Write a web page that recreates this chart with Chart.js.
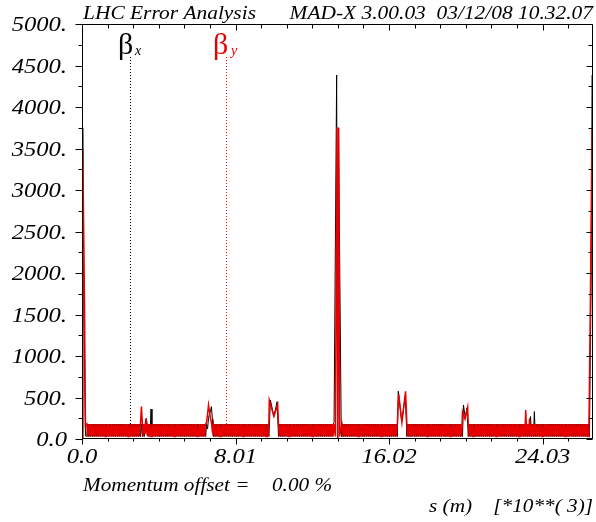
<!DOCTYPE html>
<html>
<head>
<meta charset="utf-8">
<script src="https://cdn.jsdelivr.net/npm/chart.js@4/dist/chart.umd.min.js"></script>
<style>
html,body{margin:0;padding:0;background:#fff;}
#wrap{width:596px;height:522px;}
</style>
</head>
<body>
<div id="wrap"><canvas id="c" width="596" height="522"></canvas></div>
<script>
// ---------------- DATA (s in metres, beta in metres) ----------------
// IR1 (left side of IP1)
const sIR1L  = [0, 40, 94, 130, 180];
const bxIR1L = [1, 3750, 1675, null, 40];
const byIR1L = [1, 3500, null, 1650, 160];

// Arc 1-2
const sArc12 = [250,300,350,400,450,500,550,600,650,700,
750,800,850,900,950,1000,1050,1100,1150,1200,
1250,1300,1350,1400,1450,1500,1550,1600,1650,1700,
1750,1800,1850,1900,1950,2000,2050,2100,2150,2200,
2250,2300,2350,2400,2450,2500,2550,2600,2650,2700,
2750,2800,2850,2900,2950,3000,3050];
const bxArc12 = [30,180,30,180,30,180,30,180,30,180,
30,180,30,180,30,180,30,180,30,180,
30,180,30,180,30,180,30,180,30,180,
30,180,30,180,30,180,30,180,30,180,
30,180,30,180,30,180,30,180,30,180,
30,180,30,180,30,180,30];
const byArc12 = [180,30,180,30,180,30,180,30,180,30,
180,30,180,30,180,30,180,30,180,30,
180,30,180,30,180,30,180,30,180,30,
180,30,180,30,180,30,180,30,180,30,
180,30,180,30,180,30,180,30,180,30,
180,30,180,30,180,30,180];

// IR2
const sIR2  = [3100,3150,3200,3250,3300,3350,3400,3450,3500,3550,3600,3650];
const bxIR2 = [180,30,180,30,200,250,180,30,180,30,360,30];
const byIR2 = [390,180,30,180,60,240,40,180,30,180,30,180];

// Arc 2-3
const sArc23 = [3700,3750,3800,3850,3900,3950,4000,4050,4100,4150,
4200,4250,4300,4350,4400,4450,4500,4550,4600,4650,
4700,4750,4800,4850,4900,4950,5000,5050,5100,5150,
5200,5250,5300,5350,5400,5450,5500,5550,5600,5650,
5700,5750,5800,5850,5900,5950,6000,6050,6100,6150,
6200,6250,6300,6350,6400,6450];
const bxArc23 = [180,30,180,30,180,30,180,30,180,30,
180,30,180,30,180,30,180,30,180,30,
180,30,180,30,180,30,180,30,180,30,
180,30,180,30,180,30,180,30,180,30,
180,30,180,30,180,30,180,30,180,30,
180,30,180,30,180,30];
const byArc23 = [30,180,30,180,30,180,30,180,30,180,
30,180,30,180,30,180,30,180,30,180,
30,180,30,180,30,180,30,180,30,180,
30,180,30,180,30,180,30,180,30,180,
30,180,30,180,30,180,30,180,30,180,
30,180,30,180,30,180];

// IR3
const sIR3  = [6500,6550,6600,6650,6700,6750,6800];
const bxIR3 = [180,120,250,300,330,390,250];
const byIR3 = [200,300,410,330,250,200,100];

// Arc 3-4
const sArc34 = [6850,6900,6950,7000,7050,7100,7150,7200,7250,7300,
7350,7400,7450,7500,7550,7600,7650,7700,7750,7800,
7850,7900,7950,8000,8050,8100,8150,8200,8250,8300,
8350,8400,8450,8500,8550,8600,8650,8700,8750,8800,
8850,8900,8950,9000,9050,9100,9150,9200,9250,9300,
9350,9400,9450,9500,9550,9600,9650,9700,9750];
const bxArc34 = [30,180,30,180,30,180,30,180,30,180,
30,180,30,180,30,180,30,180,30,180,
30,180,30,180,30,180,30,180,30,180,
30,180,30,180,30,180,30,180,30,180,
30,180,30,180,30,180,30,180,30,180,
30,180,30,180,30,180,30,180,30];
const byArc34 = [180,30,180,30,180,30,180,30,180,30,
180,30,180,30,180,30,180,30,180,30,
180,30,180,30,180,30,180,30,180,30,
180,30,180,30,180,30,180,30,180,30,
180,30,180,30,180,30,180,30,180,30,
180,30,180,30,180,30,180,30,180];

// IR4
const sIR4  = [9770, 9830, 10010, 10180, 10210];
const bxIR4 = [null, 470, 270, 450, null];
const byIR4 = [470, null, 275, null, 410];

// Arc 4-5
const sArc45 = [10250,10300,10350,10400,10450,10500,10550,10600,10650,10700,
10750,10800,10850,10900,10950,11000,11050,11100,11150,11200,
11250,11300,11350,11400,11450,11500,11550,11600,11650,11700,
11750,11800,11850,11900,11950,12000,12050,12100,12150,12200,
12250,12300,12350,12400,12450,12500,12550,12600,12650,12700,
12750,12800,12850,12900,12950,13000,13050,13100];
const bxArc45 = [30,180,30,180,30,180,30,180,30,180,
30,180,30,180,30,180,30,180,30,180,
30,180,30,180,30,180,30,180,30,180,
30,180,30,180,30,180,30,180,30,180,
30,180,30,180,30,180,30,180,30,180,
30,180,30,180,30,180,30,180];
const byArc45 = [180,30,180,30,180,30,180,30,180,30,
180,30,180,30,180,30,180,30,180,30,
180,30,180,30,180,30,180,30,180,30,
180,30,180,30,180,30,180,30,180,30,
180,30,180,30,180,30,180,30,180,30,
180,30,180,30,180,30,180,30];

// IR5
const sIR5  = [13150, 13220, 13285, 13300, 13340, 13380, 13390, 13440, 13520];
const bxIR5 = [200, null, 4385, null, 1, 3750, null, null, 200];
const byIR5 = [180, 30, null, 3750, 1, null, 3750, 30, null];

// Arc 5-6
const sArc56 = [13550,13600,13650,13700,13750,13800,13850,13900,13950,14000,
14050,14100,14150,14200,14250,14300,14350,14400,14450,14500,
14550,14600,14650,14700,14750,14800,14850,14900,14950,15000,
15050,15100,15150,15200,15250,15300,15350,15400,15450,15500,
15550,15600,15650,15700,15750,15800,15850,15900,15950,16000,
16050,16100,16150,16200,16250,16300,16350,16400,16450];
const bxArc56 = [30,180,30,180,30,180,30,180,30,180,
30,180,30,180,30,180,30,180,30,180,
30,180,30,180,30,180,30,180,30,180,
30,180,30,180,30,180,30,180,30,180,
30,180,30,180,30,180,30,180,30,180,
30,180,30,180,30,180,30,180,30];
const byArc56 = [180,30,180,30,180,30,180,30,180,30,
180,30,180,30,180,30,180,30,180,30,
180,30,180,30,180,30,180,30,180,30,
180,30,180,30,180,30,180,30,180,30,
180,30,180,30,180,30,180,30,180,30,
180,30,180,30,180,30,180,30,180];

// IR6
const sIR6  = [16500, 16520, 16680, 16690, 16870, 16880];
const bxIR6 = [575, null, 210, null, 520, null];
const byIR6 = [null, 540, null, 200, null, 575];

// Arc 6-7
const sArc67 = [16950,17000,17050,17100,17150,17200,17250,17300,17350,17400,
17450,17500,17550,17600,17650,17700,17750,17800,17850,17900,
17950,18000,18050,18100,18150,18200,18250,18300,18350,18400,
18450,18500,18550,18600,18650,18700,18750,18800,18850,18900,
18950,19000,19050,19100,19150,19200,19250,19300,19350,19400,
19450,19500,19550,19600,19650,19700,19750,19800];
const bxArc67 = [30,180,30,180,30,180,30,180,30,180,
30,180,30,180,30,180,30,180,30,180,
30,180,30,180,30,180,30,180,30,180,
30,180,30,180,30,180,30,180,30,180,
30,180,30,180,30,180,30,180,30,180,
30,180,30,180,30,180,30,180];
const byArc67 = [180,30,180,30,180,30,180,30,180,30,
180,30,180,30,180,30,180,30,180,30,
180,30,180,30,180,30,180,30,180,30,
180,30,180,30,180,30,180,30,180,30,
180,30,180,30,180,30,180,30,180,30,
180,30,180,30,180,30,180,30];

// IR7
const sIR7  = [19850, 19900, 19980, 20000, 20080, 20120];
const bxIR7 = [30, 410, null, 250, 375, null];
const byIR7 = [325, null, 240, null, null, 385];

// Arc 7-8
const sArc78 = [20150,20200,20250,20300,20350,20400,20450,20500,20550,20600,
20650,20700,20750,20800,20850,20900,20950,21000,21050,21100,
21150,21200,21250,21300,21350,21400,21450,21500,21550,21600,
21650,21700,21750,21800,21850,21900,21950,22000,22050,22100,
22150,22200,22250,22300,22350,22400,22450,22500,22550,22600,
22650,22700,22750,22800,22850,22900,22950,23000,23050,23100];
const bxArc78 = [30,180,30,180,30,180,30,180,30,180,
30,180,30,180,30,180,30,180,30,180,
30,180,30,180,30,180,30,180,30,180,
30,180,30,180,30,180,30,180,30,180,
30,180,30,180,30,180,30,180,30,180,
30,180,30,180,30,180,30,180,30,180];
const byArc78 = [180,30,180,30,180,30,180,30,180,30,
180,30,180,30,180,30,180,30,180,30,
180,30,180,30,180,30,180,30,180,30,
180,30,180,30,180,30,180,30,180,30,
180,30,180,30,180,30,180,30,180,30,
180,30,180,30,180,30,180,30,180,30];

// IR8
const sIR8  = [23150,23200,23250,23300,23350,23400,23450,23500,23550,23600,23650];
const bxIR8 = [30,180,30,180,30,270,30,180,30,330,30];
const byIR8 = [350,30,180,30,250,30,180,30,180,30,180];

// Arc 8-1
const sArc81 = [23700,23750,23800,23850,23900,23950,24000,24050,24100,24150,
24200,24250,24300,24350,24400,24450,24500,24550,24600,24650,
24700,24750,24800,24850,24900,24950,25000,25050,25100,25150,
25200,25250,25300,25350,25400,25450,25500,25550,25600,25650,
25700,25750,25800,25850,25900,25950,26000,26050,26100,26150,
26200,26250,26300,26350,26400];
const bxArc81 = [180,30,180,30,180,30,180,30,180,30,
180,30,180,30,180,30,180,30,180,30,
180,30,180,30,180,30,180,30,180,30,
180,30,180,30,180,30,180,30,180,30,
180,30,180,30,180,30,180,30,180,30,
180,30,180,30,180];
const byArc81 = [30,180,30,180,30,180,30,180,30,180,
30,180,30,180,30,180,30,180,30,180,
30,180,30,180,30,180,30,180,30,180,
30,180,30,180,30,180,30,180,30,180,
30,180,30,180,30,180,30,180,30,180,
30,180,30,180,30];

// IR1 (right side, back to IP1)
const sIR1R  = [26450, 26480, 26520, 26560, 26610, 26620, 26659];
const bxIR1R = [30, 150, null, 2000, null, 4385, 1];
const byIR1R = [200, null, 1590, null, 3750, null, 1];

// Axis ticks and labels
const xTickValues = [0, 8.01, 16.02, 24.03];
const xTickLabels = ['0.0', '8.01', '16.02', '24.03'];
const yTickValues = [0, 500, 1000, 1500, 2000, 2500, 3000, 3500, 4000, 4500, 5000];
const yTickLabels = ['0.0', '500.', '1000.', '1500.', '2000.', '2500.', '3000.', '3500.', '4000.', '4500.', '5000.'];
const xMax = 26.659;
const xMinorStep = 8.01 / 6;
const yMinorStep = 250;

// ---------------- BUILD ----------------
const sections = [
  [sIR1L, bxIR1L, byIR1L], [sArc12, bxArc12, byArc12], [sIR2, bxIR2, byIR2],
  [sArc23, bxArc23, byArc23], [sIR3, bxIR3, byIR3], [sArc34, bxArc34, byArc34],
  [sIR4, bxIR4, byIR4], [sArc45, bxArc45, byArc45], [sIR5, bxIR5, byIR5],
  [sArc56, bxArc56, byArc56], [sIR6, bxIR6, byIR6], [sArc67, bxArc67, byArc67],
  [sIR7, bxIR7, byIR7], [sArc78, bxArc78, byArc78], [sIR8, bxIR8, byIR8],
  [sArc81, bxArc81, byArc81], [sIR1R, bxIR1R, byIR1R]
];
const ptsX = [], ptsY = [];
sections.forEach(([s, bx, by]) => {
  const n = Math.min(s.length, bx.length, by.length);
  for (let i = 0; i < n; i++) {
    if (bx[i] !== null) ptsX.push({x: s[i] / 1000, y: bx[i]});
    if (by[i] !== null) ptsY.push({x: s[i] / 1000, y: by[i]});
  }
});

const RED = 'rgb(232,0,0)';
const SERIF = '"Liberation Serif", "Times New Roman", serif';

function stretchText(ctx, text, x, y, font, sx, align, color) {
  ctx.save();
  ctx.font = font;
  ctx.fillStyle = color || '#000';
  ctx.textBaseline = 'alphabetic';
  ctx.textAlign = 'left';
  const w = ctx.measureText(text).width * sx;
  let x0 = x;
  if (align === 'right') x0 = x - w;
  else if (align === 'center') x0 = x - w / 2;
  ctx.translate(x0, y);
  ctx.scale(sx, 1);
  ctx.fillText(text, 0, 0);
  ctx.restore();
}

const decor = {
  id: 'decor',
  beforeDatasetsDraw(chart) {
    const ctx = chart.ctx, a = chart.chartArea;
    // legend marker dotted lines
    ctx.save();
    ctx.lineWidth = 1;
    ctx.setLineDash([1, 2]);
    ctx.strokeStyle = '#000';
    ctx.beginPath(); ctx.moveTo(a.left + 48.5, 57); ctx.lineTo(a.left + 48.5, a.bottom); ctx.stroke();
    ctx.strokeStyle = RED;
    ctx.beginPath(); ctx.moveTo(a.left + 144.5, 57); ctx.lineTo(a.left + 144.5, a.bottom); ctx.stroke();
    ctx.restore();
  },
  afterDraw(chart) {
    const ctx = chart.ctx, a = chart.chartArea;
    const xs = chart.scales.x, ys = chart.scales.y;
    const L = a.left + 0.5, R = a.right - 0.5, T = a.top + 0.5, B = a.bottom - 0.5;
    ctx.save();
    ctx.strokeStyle = '#000';
    ctx.lineWidth = 1;
    ctx.setLineDash([]);
    ctx.beginPath();
    ctx.rect(L, T, R - L, B - T);
    ctx.stroke();
    // y ticks
    ctx.beginPath();
    for (let v = 0; v <= 5000 + 1e-6; v += yMinorStep) {
      const py = Math.round(ys.getPixelForValue(v)) + 0.5;
      const major = Math.abs(v % 500) < 1e-6;
      const lo = major ? 7 : 4, li = major ? 6 : 4;
      ctx.moveTo(L - lo, py); ctx.lineTo(L, py);
      ctx.moveTo(R - li, py); ctx.lineTo(R, py);
    }
    // x ticks
    for (let k = 0; k * xMinorStep <= xMax + 1e-6; k++) {
      const px = Math.round(xs.getPixelForValue(k * xMinorStep)) + 0.5;
      const major = k % 6 === 0;
      const lo = major ? 6 : 3, li = major ? 6 : 4;
      ctx.moveTo(px, B); ctx.lineTo(px, B + lo);
      ctx.moveTo(px, T); ctx.lineTo(px, T + li);
    }
    ctx.stroke();
    ctx.restore();

    // tick labels
    const tickFont = 'italic 21px ' + SERIF;
    yTickValues.forEach((v, i) => {
      stretchText(ctx, yTickLabels[i], 67, ys.getPixelForValue(v) + 7, tickFont, 1.17, 'right');
    });
    xTickValues.forEach((v, i) => {
      stretchText(ctx, xTickLabels[i], xs.getPixelForValue(v), 463, tickFont, 1.17, 'center');
    });

    // header
    const hFont = 'italic 18px ' + SERIF;
    stretchText(ctx, 'LHC Error Analysis', 83, 18.5, hFont, 1.19, 'left');
    stretchText(ctx, 'MAD-X 3.00.03  03/12/08 10.32.07', 593, 18.5, hFont, 1.19, 'right');

    // footer
    stretchText(ctx, 'Momentum offset =', 83, 490.5, hFont, 1.18, 'left');
    stretchText(ctx, '0.00 %', 272, 490.5, hFont, 1.18, 'left');
    stretchText(ctx, 's (m)', 429, 512, hFont, 1.18, 'left');
    stretchText(ctx, '[*10**( 3)]', 593, 512, hFont, 1.18, 'right');

    // legend labels
    const bFont = '30px ' + SERIF;
    const subFont = 'italic 14px ' + SERIF;
    stretchText(ctx, 'β', a.left + 36, 54, bFont, 1.0, 'left', '#000');
    stretchText(ctx, 'x', a.left + 53, 55, subFont, 1.0, 'left', '#000');
    stretchText(ctx, 'β', a.left + 131, 54, bFont, 1.0, 'left', RED);
    stretchText(ctx, 'y', a.left + 149, 55, subFont, 1.0, 'left', RED);
  }
};

new Chart(document.getElementById('c'), {
  type: 'line',
  data: {
    datasets: [
      { label: 'βx', data: ptsX, borderColor: '#000', borderWidth: 1, pointRadius: 0, tension: 0, order: 2, fill: false },
      { label: 'βy', data: ptsY, borderColor: RED, borderWidth: 1.5, pointRadius: 0, tension: 0, order: 1, fill: false }
    ]
  },
  options: {
    responsive: false,
    animation: false,
    devicePixelRatio: 1,
    layout: { padding: { top: 24, right: 3, left: 0, bottom: 0 } },
    plugins: { legend: { display: false }, tooltip: { enabled: false } },
    scales: {
      x: {
        type: 'linear', min: 0, max: xMax,
        ticks: { display: false },
        grid: { display: false, drawTicks: false },
        border: { display: false },
        afterFit(s) { s.height = 83; }
      },
      y: {
        type: 'linear', min: 0, max: 5000,
        ticks: { display: false, stepSize: 500 },
        grid: { display: false, drawTicks: false },
        border: { display: false },
        afterFit(s) { s.width = 82; }
      }
    }
  },
  plugins: [decor]
});
</script>
</body>
</html>
